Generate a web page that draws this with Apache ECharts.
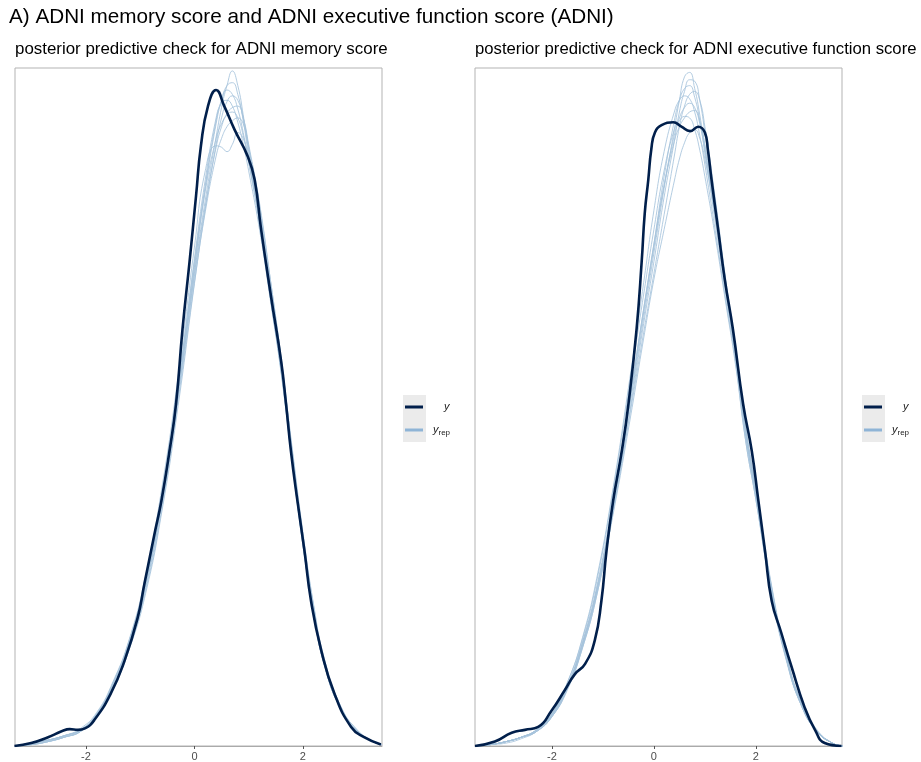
<!DOCTYPE html>
<html>
<head>
<meta charset="utf-8">
<script src="https://cdn.jsdelivr.net/npm/echarts@6/dist/echarts.min.js"></script>
<style>
  html, body { margin: 0; padding: 0; background: #fff; }
  #main { width: 921px; height: 762px; }
</style>
</head>
<body>
<div id="main"></div>
<script>
// tick labels shared by both panels
var xTicks = [-2, 0, 2];

// ---- panel A: ADNI memory score ----
// observed density (y)
var yMemX = [-3.32, -3.01, -2.70, -2.45, -2.30, -2.15, -2.02, -1.84, -1.54, -1.29, -1.05, -0.92, -0.74, -0.61, -0.46, -0.34, -0.22, -0.09, 0.03, 0.12, 0.25, 0.40, 0.55, 0.74, 0.98, 1.11, 1.23, 1.41, 1.60, 1.69, 1.78, 1.90, 2.03, 2.15, 2.34, 2.58, 2.89, 3.13, 3.44];
var yMemD = [0, 0.002, 0.006, 0.010, 0.0115, 0.011, 0.012, 0.018, 0.036, 0.058, 0.087, 0.111, 0.144, 0.167, 0.201, 0.233, 0.284, 0.330, 0.375, 0.409, 0.436, 0.447, 0.436, 0.420, 0.402, 0.386, 0.352, 0.307, 0.262, 0.233, 0.201, 0.167, 0.133, 0.099, 0.065, 0.036, 0.013, 0.006, 0.001];
// replicated densities (yrep), all on one x grid
var repMemX = [-3.3, -3.0, -2.7, -2.4, -2.1, -1.8, -1.5, -1.2, -0.9, -0.6, -0.3, 0.0, 0.2, 0.4, 0.5, 0.6, 0.7, 0.8, 0.9, 1.0, 1.2, 1.4, 1.6, 1.8, 2.0, 2.2, 2.4, 2.7, 3.0, 3.3, 3.45];
var repMem1 = [0, .002, .004, .007, .011, .021, .040, .068, .108, .166, .240, .322, .372, .415, .435, .450, .460, .450, .430, .405, .362, .310, .258, .198, .140, .092, .056, .025, .010, .003, .001];
var repMem2 = [0, .001, .003, .006, .010, .022, .043, .072, .114, .172, .246, .330, .382, .426, .440, .447, .444, .434, .418, .398, .356, .306, .256, .196, .138, .090, .055, .026, .010, .003, .001];
var repMem3 = [0, .001, .003, .006, .010, .020, .039, .066, .104, .160, .232, .315, .366, .410, .428, .439, .443, .440, .428, .408, .366, .314, .262, .202, .144, .095, .058, .027, .011, .003, .001];
var repMem4 = [0, .002, .004, .007, .012, .023, .044, .073, .116, .176, .252, .340, .392, .409, .408, .405, .410, .418, .414, .400, .358, .306, .255, .195, .138, .090, .055, .025, .010, .003, .001];
var repMem5 = [0, .002, .004, .007, .011, .022, .042, .071, .112, .170, .246, .332, .386, .428, .438, .440, .436, .425, .410, .392, .352, .304, .254, .194, .137, .090, .055, .025, .010, .003, .001];
var repMem6 = [0, .001, .003, .006, .010, .021, .041, .069, .110, .167, .240, .320, .368, .408, .422, .431, .435, .436, .428, .410, .370, .318, .264, .202, .143, .094, .057, .026, .010, .003, .001];
var repMem7 = [0, .002, .004, .007, .011, .022, .043, .072, .112, .170, .244, .326, .378, .414, .424, .430, .432, .428, .416, .398, .358, .308, .257, .197, .139, .091, .055, .025, .010, .003, .001];
var repMem8 = [0, .001, .003, .006, .010, .020, .040, .067, .106, .162, .236, .316, .364, .402, .414, .422, .426, .428, .424, .408, .368, .318, .264, .204, .146, .096, .059, .027, .011, .003, .001];
var repMem9 = [0, .002, .004, .007, .011, .021, .041, .070, .110, .168, .242, .326, .380, .424, .440, .450, .452, .444, .426, .402, .358, .306, .256, .196, .138, .091, .055, .025, .010, .003, .001];

// ---- panel B: ADNI executive function score ----
var yExeX = [-3.51, -3.12, -2.79, -2.53, -2.27, -2.01, -1.75, -1.55, -1.35, -1.16, -1.03, -0.93, -0.80, -0.63, -0.50, -0.34, -0.24, -0.18, -0.11, -0.05, 0.02, 0.15, 0.38, 0.54, 0.71, 0.87, 1.00, 1.06, 1.13, 1.26, 1.39, 1.55, 1.75, 1.92, 2.05, 2.18, 2.31, 2.50, 2.70, 2.96, 3.16, 3.35, 3.68];
var yExeD = [0, 0.003, 0.009, 0.011, 0.013, 0.024, 0.038, 0.049, 0.056, 0.072, 0.099, 0.133, 0.167, 0.201, 0.233, 0.284, 0.330, 0.363, 0.386, 0.407, 0.418, 0.423, 0.425, 0.422, 0.419, 0.422, 0.418, 0.406, 0.386, 0.352, 0.318, 0.284, 0.233, 0.201, 0.167, 0.133, 0.099, 0.077, 0.054, 0.026, 0.011, 0.002, 0];
var repExeX = [-3.5, -3.2, -2.9, -2.6, -2.3, -2.0, -1.7, -1.4, -1.1, -0.8, -0.5, -0.2, 0.0, 0.2, 0.4, 0.5, 0.6, 0.7, 0.8, 0.9, 1.0, 1.2, 1.4, 1.6, 1.8, 2.0, 2.3, 2.6, 2.9, 3.2, 3.5, 3.7];
var repExe1 = [0, .001, .003, .006, .011, .021, .040, .070, .110, .164, .226, .292, .336, .380, .420, .440, .456, .459, .448, .430, .408, .362, .314, .268, .214, .172, .108, .060, .028, .010, .002, 0];
var repExe2 = [0, .001, .003, .006, .010, .020, .038, .067, .106, .160, .222, .288, .330, .374, .412, .432, .446, .454, .453, .440, .418, .370, .318, .270, .216, .174, .110, .061, .029, .010, .002, 0];
var repExe3 = [0, .001, .003, .006, .011, .022, .041, .071, .112, .168, .232, .298, .342, .388, .426, .440, .448, .450, .442, .426, .404, .358, .310, .265, .212, .170, .106, .059, .027, .010, .002, 0];
var repExe4 = [0, .001, .002, .005, .010, .020, .039, .068, .108, .160, .220, .282, .322, .362, .402, .422, .436, .444, .446, .440, .422, .374, .320, .272, .218, .176, .111, .062, .029, .011, .002, 0];
var repExe5 = [0, .001, .003, .006, .011, .022, .043, .074, .118, .176, .244, .316, .365, .405, .432, .440, .443, .441, .432, .416, .396, .352, .306, .262, .208, .168, .105, .058, .027, .010, .002, 0];
var repExe6 = [0, .001, .003, .006, .010, .021, .040, .069, .109, .164, .228, .296, .340, .382, .416, .428, .435, .438, .435, .424, .406, .364, .314, .268, .214, .172, .108, .060, .028, .010, .002, 0];
var repExe7 = [0, .001, .003, .006, .011, .021, .041, .070, .110, .166, .230, .298, .342, .382, .412, .422, .428, .432, .433, .426, .410, .368, .318, .270, .216, .174, .109, .061, .028, .010, .002, 0];
var repExe8 = [0, .001, .003, .006, .011, .022, .043, .073, .116, .174, .240, .308, .352, .392, .420, .426, .429, .428, .420, .406, .388, .348, .304, .260, .208, .168, .106, .059, .027, .010, .002, 0];
var repExe9 = [0, .001, .003, .006, .010, .020, .039, .067, .106, .158, .216, .278, .318, .352, .385, .400, .411, .418, .420, .414, .400, .362, .314, .268, .214, .172, .108, .060, .028, .010, .002, 0];

var repMem = [repMem1, repMem2, repMem3, repMem4, repMem5, repMem6, repMem7, repMem8, repMem9];
var repExe = [repExe1, repExe2, repExe3, repExe4, repExe5, repExe6, repExe7, repExe8, repExe9];

var DARK = '#011f4b';
var LIGHT = '#a6c3dc';

function pairs(xs, ys) {
  return xs.map(function (x, i) { return [x, ys[i]]; });
}

function repSeries(xs, reps, idx) {
  return reps.map(function (r) {
    return {
      name: 'y_rep', type: 'line', xAxisIndex: idx, yAxisIndex: idx,
      data: pairs(xs, r), symbol: 'none', smooth: 0.5,
      lineStyle: { color: LIGHT, width: 1, opacity: 0.85 }, itemStyle: { color: LIGHT },
      silent: true, z: 2
    };
  });
}

function ySeries(xs, ds, idx) {
  return {
    name: 'y', type: 'line', xAxisIndex: idx, yAxisIndex: idx,
    data: pairs(xs, ds), symbol: 'none', smooth: 0.5,
    lineStyle: { color: DARK, width: 2.6 }, itemStyle: { color: DARK },
    silent: true, z: 3
  };
}

function xAxis(idx, min, max) {
  return {
    gridIndex: idx, type: 'value', min: min, max: max,
    axisLine: { show: true, lineStyle: { color: '#aaaaaa', width: 1 } },
    axisTick: { show: true, customValues: xTicks, length: 3, lineStyle: { color: '#555' } },
    axisLabel: { customValues: xTicks, fontSize: 11, color: '#4d4d4d', margin: 5 },
    splitLine: { show: false }
  };
}

function yAxis(idx) {
  return { gridIndex: idx, type: 'value', min: 0, max: 0.462, show: false, splitLine: { show: false } };
}

var legendRich = {
  p1: { width: 16 },
  p2: { width: 5 },
  i: { fontSize: 11, fontStyle: 'italic', color: '#1a1a1a', lineHeight: 14 },
  s: { fontSize: 8, color: '#1a1a1a', lineHeight: 9, verticalAlign: 'bottom' }
};

function legend(left) {
  return {
    left: left, top: 396, orient: 'vertical', icon: 'rect',
    itemWidth: 18, itemHeight: 3, itemGap: 11, selectedMode: false,
    data: [
      { name: 'y', itemStyle: { color: DARK } },
      { name: 'y_rep', itemStyle: { color: '#8fb4d6' } }
    ],
    formatter: function (name) {
      return name === 'y' ? '{p1|}{i|y}' : '{p2|}{i|y}{s|rep}';
    },
    textStyle: { rich: legendRich }
  };
}

var chart = echarts.init(document.getElementById('main'));

var option = {
  animation: false,
  backgroundColor: '#fff',
  textStyle: { fontFamily: 'Liberation Sans, Arial, sans-serif' },
  title: [
    { text: 'A) ADNI memory score and ADNI executive function score (ADNI)', left: 9, top: 7, padding: 0,
      textStyle: { fontSize: 20.7, fontWeight: 'normal', color: '#000' } },
    { text: 'posterior predictive check for ADNI memory score', left: 15, top: 41, padding: 0,
      textStyle: { fontSize: 16.9, fontWeight: 'normal', color: '#000' } },
    { text: 'posterior predictive check for ADNI executive function score', left: 475, top: 41, padding: 0,
      textStyle: { fontSize: 16.7, fontWeight: 'normal', color: '#000' } }
  ],
  graphic: [
    { type: 'rect', left: 403, top: 395, shape: { width: 23, height: 47 }, style: { fill: '#ebebeb' }, silent: true },
    { type: 'rect', left: 862, top: 395, shape: { width: 23, height: 47 }, style: { fill: '#ebebeb' }, silent: true }
  ],
  legend: [legend(400), legend(859)],
  grid: [
    { left: 15, top: 68, width: 367, height: 678, show: true, borderColor: '#b3b3b3', borderWidth: 1 },
    { left: 475, top: 68, width: 367, height: 678, show: true, borderColor: '#b3b3b3', borderWidth: 1 }
  ],
  xAxis: [xAxis(0, -3.31, 3.46), xAxis(1, -3.51, 3.69)],
  yAxis: [yAxis(0), yAxis(1)],
  series: []
    .concat(repSeries(repMemX, repMem, 0))
    .concat([ySeries(yMemX, yMemD, 0)])
    .concat(repSeries(repExeX, repExe, 1))
    .concat([ySeries(yExeX, yExeD, 1)])
};

chart.setOption(option);
</script>
</body>
</html>
